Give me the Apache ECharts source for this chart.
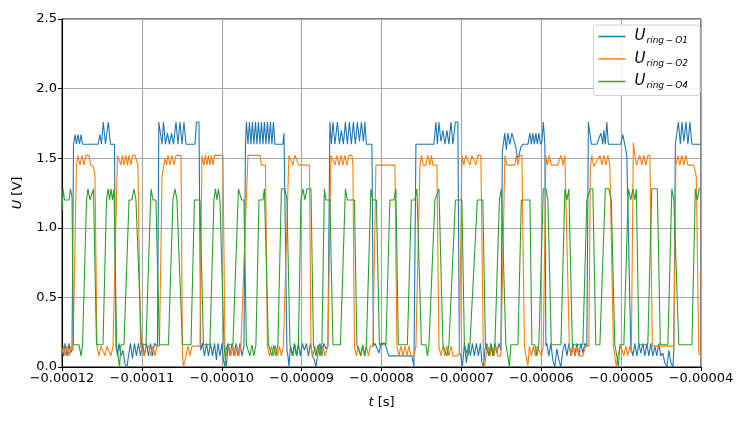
<!DOCTYPE html>
<html>
<head>
<meta charset="utf-8">
<script src="https://cdn.jsdelivr.net/npm/echarts@6/dist/echarts.min.js"></script>
<style>
html,body{margin:0;padding:0;background:#fff;}
#c{width:747px;height:421px;}
</style>
</head>
<body>
<div id="c"></div>
<script>
// time in microseconds, voltage in V
const seriesNames = ['O1', 'O2', 'O4'];
const colors = ['#1f77b4', '#ff7f0e', '#2ca02c'];

const u1 = [
[-120.00,0.13],[-119.81,0.08],[-119.62,0.17],[-119.37,0.08],[-119.12,0.17],[-118.94,0.10],[-118.75,0.12],
[-118.56,1.60],[-118.37,1.67],[-118.19,1.60],[-118.00,1.67],[-117.81,1.60],[-117.62,1.67],[-117.43,1.60],
[-115.49,1.60],[-115.24,1.67],[-115.06,1.60],[-114.83,1.76],[-114.56,1.60],[-114.21,1.76],[-113.93,1.60],[-113.43,1.60],
[-113.24,0.15],[-113.05,0.08],[-112.87,0.17],[-112.62,0.08],[-112.37,0.12],[-112.11,0.02],[-111.86,0.00],[-111.68,0.08],
[-111.43,0.17],[-111.18,0.06],[-110.93,0.17],[-110.68,0.08],[-110.43,0.17],[-110.17,0.08],[-109.92,0.17],[-109.67,0.08],
[-109.42,0.17],[-109.17,0.08],[-108.92,0.17],[-108.67,0.08],[-108.42,0.17],[-108.05,0.15],
[-107.88,1.76],[-107.67,1.76],[-107.48,1.60],[-107.30,1.76],[-107.05,1.60],[-106.80,1.68],[-106.55,1.60],[-106.29,1.68],
[-106.04,1.60],[-105.73,1.76],[-105.48,1.60],[-105.23,1.76],[-104.98,1.60],[-104.73,1.76],[-104.48,1.60],[-103.35,1.60],
[-103.17,1.76],[-102.85,1.76],
[-102.63,0.12],[-102.41,0.17],[-102.16,0.08],[-101.91,0.17],[-101.66,0.08],[-101.41,0.17],[-101.16,0.08],[-100.91,0.17],
[-100.66,0.05],[-100.48,0.17],[-100.22,0.08],[-99.97,0.17],[-99.79,0.05],[-99.60,0.00],[-99.47,0.12],[-99.22,0.17],
[-98.97,0.08],[-98.72,0.17],[-98.47,0.08],[-98.22,0.17],[-97.97,0.08],[-97.72,0.17],[-97.47,0.08],[-97.22,0.15],
[-97.03,1.60],[-96.91,1.76],[-96.72,1.60],[-96.53,1.76],[-96.34,1.60],[-96.16,1.76],[-95.97,1.60],[-95.78,1.76],
[-95.59,1.60],[-95.41,1.76],[-95.22,1.60],[-95.03,1.76],[-94.84,1.60],[-94.66,1.76],[-94.47,1.60],[-94.28,1.76],
[-94.09,1.60],[-93.91,1.76],[-93.72,1.60],[-93.53,1.76],[-93.34,1.60],[-92.34,1.60],[-92.21,1.68],[-92.03,1.68],
[-91.84,0.12],[-91.71,0.08],[-91.59,0.00],[-91.40,0.15],[-91.15,0.08],[-90.90,0.17],[-90.65,0.08],[-90.40,0.17],
[-90.15,0.08],[-89.90,0.17],[-89.65,0.12],[-89.40,0.17],[-89.15,0.08],[-88.90,0.17],[-88.65,0.08],[-88.40,0.05],
[-88.21,0.00],[-87.96,0.10],[-87.71,0.17],[-87.46,0.08],[-87.21,0.17],[-86.96,0.13],[-86.71,0.15],
[-86.46,1.76],[-86.27,1.60],[-86.08,1.76],[-85.83,1.60],[-85.52,1.76],[-85.27,1.60],[-85.02,1.70],[-84.77,1.60],
[-84.52,1.76],[-84.27,1.60],[-84.02,1.76],[-83.77,1.60],[-83.52,1.76],[-83.27,1.60],[-83.02,1.76],[-82.76,1.62],
[-82.51,1.76],[-82.26,1.62],[-82.08,1.76],[-81.89,1.60],[-81.20,1.60],
[-81.01,0.15],[-80.82,0.17],[-80.32,0.10],[-80.07,0.17],[-79.57,0.17],[-79.07,0.08],[-76.19,0.08],[-75.94,0.00],
[-75.69,1.60],[-73.44,1.60],[-73.19,1.76],[-73.00,1.60],[-72.81,1.76],[-72.56,1.62],[-72.31,1.70],[-72.06,1.60],
[-71.81,1.70],[-71.56,1.60],[-71.31,1.76],[-71.06,1.60],[-70.75,1.76],[-70.44,1.76],
[-70.25,0.10],[-70.06,0.08],[-69.87,0.00],[-69.62,0.17],[-69.37,0.03],[-69.12,0.17],[-68.87,0.08],[-68.62,0.17],
[-68.37,0.08],[-68.12,0.17],[-67.87,0.08],[-67.62,0.17],[-67.43,0.03],[-67.24,0.00],[-67.05,0.13],[-66.80,0.17],
[-66.55,0.08],[-66.30,0.17],[-66.05,0.08],[-65.80,0.17],[-65.55,0.10],[-65.30,0.17],[-65.05,0.12],
[-64.87,1.55],[-64.56,1.68],[-64.37,1.56],[-64.18,1.68],[-63.93,1.60],[-63.68,1.68],[-63.43,1.68],[-63.18,1.58],
[-62.99,1.50],[-62.80,1.52],[-62.55,1.58],[-62.30,1.60],[-61.67,1.60],[-61.42,1.68],[-61.24,1.60],[-61.05,1.68],
[-60.86,1.60],[-60.67,1.68],[-60.49,1.60],[-60.30,1.68],[-60.11,1.60],[-59.92,1.62],[-59.74,1.76],[-59.55,1.60],
[-59.42,0.15],[-59.30,0.17],[-59.05,0.08],[-58.80,0.17],[-58.55,0.05],[-58.30,0.00],[-58.05,0.13],[-57.79,0.05],
[-57.54,0.00],[-57.29,0.12],[-57.04,0.17],[-56.79,0.08],[-56.54,0.17],[-56.29,0.08],[-56.04,0.17],[-55.79,0.08],
[-55.54,0.17],[-55.29,0.08],[-55.04,0.17],[-54.79,0.10],[-54.54,0.17],[-54.29,0.15],
[-54.10,1.76],[-53.91,1.76],[-53.73,1.60],[-53.04,1.60],[-52.54,1.68],[-52.29,1.60],[-52.16,1.70],[-51.98,1.60],
[-51.79,1.76],[-51.60,1.60],[-50.04,1.60],[-49.79,1.67],[-49.54,1.60],[-49.29,1.52],[-49.04,1.52],
[-48.79,0.15],[-48.53,0.08],[-48.28,0.17],[-48.03,0.08],[-47.78,0.17],[-47.53,0.10],[-47.28,0.17],[-47.03,0.08],
[-46.78,0.17],[-46.53,0.08],[-46.28,0.17],[-46.03,0.08],[-45.78,0.15],[-45.53,0.08],[-45.28,0.17],[-45.03,0.08],
[-44.78,0.10],[-44.53,0.03],[-44.27,0.00],[-44.02,0.12],[-43.77,0.03],[-43.52,0.00],[-43.40,0.12],
[-43.21,1.60],[-43.02,1.60],[-42.83,1.76],[-42.58,1.60],[-42.39,1.76],[-42.14,1.62],[-41.89,1.76],[-41.64,1.60],
[-41.39,1.76],[-41.14,1.60],[-40.00,1.60]
];

const u2 = [
[-120.00,0.10],[-119.81,0.15],[-119.62,0.08],[-119.37,0.15],[-119.12,0.08],[-118.87,0.15],[-118.62,0.12],
[-118.19,1.45],[-118.00,1.52],[-117.75,1.45],[-117.50,1.52],[-117.25,1.45],[-117.00,1.52],[-116.62,1.52],[-116.43,1.45],
[-116.06,1.44],[-115.87,1.37],
[-115.62,0.15],[-115.37,0.08],[-115.12,0.15],[-114.87,0.15],[-114.62,0.08],[-114.37,0.15],[-114.12,0.15],[-113.87,0.08],
[-113.62,0.15],[-113.37,0.15],
[-113.05,1.52],[-112.87,1.52],[-112.62,1.45],[-112.43,1.52],[-112.24,1.45],[-111.99,1.52],[-111.80,1.45],[-111.61,1.52],
[-111.36,1.45],[-111.18,1.52],[-110.86,1.52],[-110.49,1.45],
[-110.17,0.15],[-109.99,0.15],[-109.74,0.08],[-109.49,0.15],[-109.17,0.15],[-108.86,0.08],[-108.61,0.15],[-108.36,0.08],
[-108.11,0.15],[-107.80,0.15],
[-107.48,1.37],[-107.11,1.50],[-106.92,1.45],[-106.73,1.52],[-106.48,1.45],[-106.23,1.52],[-105.98,1.45],[-105.73,1.52],
[-105.10,1.52],
[-104.92,0.08],[-104.79,0.00],[-104.48,0.08],[-104.23,0.15],[-103.98,0.08],[-103.73,0.15],[-102.73,0.15],
[-102.48,1.52],[-102.23,1.45],[-102.04,1.52],[-101.85,1.45],[-101.66,1.52],[-101.48,1.45],[-101.29,1.52],[-101.10,1.45],
[-100.91,1.52],[-99.85,1.52],
[-99.60,0.15],[-99.35,0.08],[-99.10,0.15],[-98.85,0.08],[-98.60,0.15],[-98.35,0.08],[-98.10,0.15],[-97.85,0.08],
[-97.60,0.15],[-97.35,0.15],
[-96.72,1.52],[-95.22,1.52],[-95.03,1.45],[-94.53,1.45],
[-94.28,0.15],[-94.03,0.08],[-93.78,0.15],[-93.53,0.08],[-93.28,0.15],[-93.03,0.08],[-92.78,0.15],[-92.53,0.08],
[-92.28,0.15],[-92.03,0.15],
[-91.59,1.52],[-91.34,1.52],[-91.09,1.45],[-90.84,1.52],[-90.59,1.52],[-90.34,1.45],[-89.02,1.45],
[-88.83,0.15],[-88.58,0.08],[-88.33,0.15],[-88.08,0.08],[-87.83,0.15],[-87.58,0.08],[-87.33,0.15],[-87.08,0.08],
[-86.71,0.15],
[-86.33,1.52],[-86.08,1.52],[-85.83,1.45],[-85.58,1.52],[-85.33,1.45],[-85.08,1.52],[-84.83,1.45],[-84.58,1.52],
[-84.33,1.45],[-84.08,1.52],[-83.70,1.52],[-83.58,1.45],
[-83.39,0.15],[-83.14,0.08],[-82.89,0.15],[-82.64,0.08],[-82.39,0.15],[-82.14,0.08],[-81.89,0.15],[-81.64,0.08],
[-81.39,0.15],[-81.08,0.15],
[-80.70,1.45],[-78.32,1.45],
[-78.07,0.15],[-77.82,0.08],[-77.57,0.15],[-77.32,0.08],[-77.07,0.15],[-76.82,0.08],[-76.57,0.15],[-76.32,0.08],
[-75.94,0.08],[-75.69,0.15],
[-75.19,1.45],[-75.00,1.52],[-74.75,1.45],[-74.44,1.45],[-74.19,1.52],[-73.94,1.45],[-73.75,1.52],[-73.56,1.45],
[-73.06,1.45],
[-72.81,0.15],[-72.56,0.08],[-72.31,0.15],[-72.06,0.08],[-71.81,0.15],[-71.56,0.08],[-71.31,0.15],[-71.06,0.08],
[-70.56,0.08],[-70.25,0.10],
[-69.94,1.52],[-69.69,1.45],[-69.44,1.52],[-69.19,1.52],[-68.93,1.45],[-68.68,1.52],[-68.43,1.52],[-68.18,1.45],
[-67.93,1.52],[-67.56,1.52],
[-67.24,0.05],[-67.12,0.00],[-66.93,0.08],[-66.68,0.15],[-66.43,0.08],[-66.18,0.15],[-65.93,0.08],[-65.68,0.15],
[-65.43,0.08],[-65.05,0.08],
[-64.55,1.52],[-64.30,1.45],[-63.30,1.45],[-63.11,1.52],[-62.92,1.45],[-62.74,1.52],[-62.42,1.52],
[-62.11,0.15],[-61.92,0.08],[-61.67,0.01],[-61.49,0.15],[-61.24,0.08],[-60.99,0.15],[-60.74,0.08],[-60.49,0.15],
[-60.24,0.15],[-59.99,0.08],[-59.74,0.15],
[-59.42,1.52],[-59.24,1.45],[-58.99,1.52],[-58.74,1.45],[-57.92,1.45],[-57.54,1.52],[-57.29,1.45],[-57.04,1.52],
[-56.79,1.52],
[-56.48,0.15],[-56.23,0.08],[-55.98,0.15],[-55.73,0.08],[-55.48,0.15],[-55.23,0.08],[-54.79,0.08],[-54.42,0.15],
[-54.04,0.15],
[-53.85,1.44],[-53.67,1.52],[-53.42,1.44],[-52.66,1.52],[-52.41,1.45],[-52.16,1.52],[-51.91,1.45],[-51.66,1.52],
[-51.41,1.45],
[-50.97,0.15],[-50.79,0.08],[-50.60,0.00],[-50.41,0.08],[-50.04,0.15],[-49.66,0.08],[-49.41,0.15],[-49.16,0.08],
[-48.91,0.15],[-48.72,0.10],
[-48.47,1.61],[-48.28,1.52],[-48.09,1.45],[-47.91,1.45],[-47.66,1.52],[-47.41,1.45],[-47.16,1.52],[-46.91,1.45],
[-46.66,1.52],[-46.40,1.52],
[-46.09,0.15],[-43.40,0.15],
[-43.15,1.45],[-42.90,1.52],[-42.65,1.45],[-42.40,1.52],[-42.15,1.45],[-41.90,1.52],[-41.65,1.45],[-40.90,1.45],
[-40.59,1.37],[-40.28,0.10],[-40.00,0.08]
];

const u4 = [
[-120.00,1.12],[-119.87,1.28],[-119.69,1.20],[-119.12,1.20],[-118.94,1.28],[-118.75,1.22],
[-118.56,0.16],[-117.87,0.16],[-117.62,0.08],[-117.43,0.16],
[-116.93,1.20],[-116.75,1.28],[-116.50,1.20],[-116.25,1.20],[-116.06,1.28],
[-115.68,0.16],[-114.87,0.16],
[-114.43,1.20],[-114.24,1.28],[-114.05,1.20],[-113.87,1.28],[-113.68,1.20],[-113.49,1.28],
[-113.18,0.16],[-112.99,0.16],[-112.80,0.00],[-112.62,0.16],[-112.24,0.16],
[-111.61,1.20],[-111.24,1.20],[-110.99,1.28],[-110.74,1.20],[-110.49,1.20],
[-110.05,0.16],[-109.49,0.16],
[-108.86,1.28],[-108.61,1.20],[-108.24,1.20],
[-107.80,0.16],[-106.67,0.16],
[-106.11,1.20],[-105.86,1.28],[-105.61,1.20],[-105.36,1.20],
[-104.92,0.16],[-103.85,0.16],
[-103.42,1.20],[-102.73,1.20],
[-102.29,0.16],[-101.48,0.16],
[-100.98,1.20],[-100.79,1.28],[-100.60,1.20],[-100.41,1.28],[-100.22,1.20],
[-99.72,0.16],[-99.60,0.08],[-99.41,0.00],[-99.22,0.16],[-98.60,0.16],
[-97.91,1.28],[-97.72,1.28],[-97.53,1.20],[-97.22,1.20],
[-96.91,0.16],[-96.72,0.16],[-96.47,0.08],[-96.22,0.16],[-95.97,0.08],[-95.72,0.16],
[-95.34,1.20],[-94.84,1.20],[-94.66,1.28],[-94.47,1.28],
[-94.16,0.16],[-93.97,0.16],[-93.72,0.08],[-93.47,0.16],[-93.22,0.08],[-92.97,0.16],
[-92.53,1.28],[-92.09,1.28],[-91.84,1.20],
[-91.46,0.16],[-91.34,0.16],[-91.09,0.08],[-90.84,0.16],[-90.59,0.08],[-90.40,0.16],
[-90.09,1.20],[-89.84,1.28],[-89.59,1.20],[-89.34,1.28],[-88.83,1.28],
[-88.52,0.16],[-88.21,0.08],[-87.96,0.16],[-87.71,0.08],[-87.46,0.16],
[-87.15,1.28],[-86.96,1.20],[-86.46,1.20],
[-86.08,0.16],[-85.14,0.16],
[-84.52,1.28],[-84.27,1.20],[-83.39,1.20],
[-83.08,0.16],[-82.83,0.16],[-82.58,0.08],[-82.33,0.16],[-82.08,0.08],[-81.89,0.16],
[-81.33,1.28],[-81.08,1.20],[-80.64,1.20],
[-80.26,0.16],[-79.45,0.16],
[-78.95,1.20],[-78.45,1.20],[-78.20,1.28],
[-77.89,0.16],[-76.76,0.16],
[-76.26,1.20],[-75.82,1.20],[-75.57,1.28],[-75.38,1.28],
[-75.00,0.16],[-74.44,0.16],[-74.25,0.08],[-74.06,0.16],[-73.81,0.16],
[-73.31,1.20],[-73.06,1.20],[-72.81,1.28],[-72.63,1.28],
[-72.31,0.16],[-72.06,0.16],[-71.81,0.08],[-71.56,0.16],[-71.31,0.16],
[-70.75,1.20],[-69.94,1.20],
[-69.62,0.16],[-69.44,0.16],[-69.19,0.08],[-68.93,0.16],[-68.68,0.16],
[-68.00,1.20],[-67.31,1.20],
[-66.99,0.16],[-66.80,0.16],[-66.55,0.08],[-66.30,0.16],[-66.05,0.08],[-65.80,0.16],
[-65.24,1.20],[-64.99,1.28],
[-64.43,0.16],[-64.18,0.08],[-63.99,0.00],[-63.80,0.16],[-62.92,0.16],
[-62.49,1.20],[-61.42,1.20],
[-61.17,0.16],[-60.80,0.16],[-60.55,0.08],[-60.30,0.16],
[-59.74,1.28],[-59.42,1.28],[-59.17,1.20],
[-58.74,0.16],[-57.54,0.16],
[-57.04,1.28],[-56.79,1.20],[-56.54,1.28],
[-56.11,0.16],[-54.79,0.16],
[-54.29,1.20],[-54.04,1.20],[-53.85,1.28],[-53.54,1.28],
[-53.17,0.16],[-52.66,0.16],
[-51.98,1.28],[-51.54,1.28],[-51.23,1.20],
[-50.79,0.16],[-50.54,0.08],[-50.35,0.00],[-50.16,0.16],[-49.66,0.16],
[-49.10,1.28],[-48.79,1.20],[-48.53,1.28],[-48.28,1.20],[-48.09,1.28],
[-47.78,0.16],[-46.66,0.16],
[-46.16,1.28],[-45.47,1.28],
[-45.09,0.16],[-44.15,0.16],
[-43.65,1.28],[-43.40,1.20],[-43.15,1.20],
[-42.78,0.16],[-41.14,0.16],
[-40.71,1.28],[-40.46,1.20],[-40.21,1.28],[-40.00,1.28]
];

const xMinUs = -120, xMaxUs = -40, xStepUs = 10;
const yMin = 0, yMax = 2.5, yStep = 0.5;

const toSec = arr => arr.map(p => [p[0] * 1e-6, p[1]]);
const allData = [u1, u2, u4];

const font = 'DejaVu Sans';
const chart = echarts.init(document.getElementById('c'), null, {renderer: 'canvas'});
chart.setOption({
  animation: false,
  backgroundColor: '#fff',
  grid: {left: 62, right: 46, top: 19, bottom: 54, show: true, borderColor: '#000', borderWidth: 1, backgroundColor: 'transparent'},
  xAxis: {
    type: 'value',
    min: xMinUs * 1e-6, max: xMaxUs * 1e-6, interval: xStepUs * 1e-6,
    name: '{i|t} [s]',
    nameLocation: 'middle', nameGap: 29,
    nameTextStyle: {fontFamily: font, fontSize: 13, color: '#000', rich: {i: {fontFamily: font, fontSize: 13, fontStyle: 'italic', color: '#000'}}},
    axisLine: {show: true, lineStyle: {color: '#000', width: 1}},
    axisTick: {show: true, length: 4, lineStyle: {color: '#000'}},
    axisLabel: {fontFamily: font, fontSize: 13, color: '#000', margin: 5,
      formatter: v => (v < 0 ? '\u2212' : '') + Math.abs(v).toFixed(5)},
    splitLine: {show: true, lineStyle: {color: '#a8a8a8', width: 1.2}}
  },
  yAxis: {
    type: 'value',
    min: yMin, max: yMax, interval: yStep,
    name: '{i|U} [V]',
    nameLocation: 'middle', nameGap: 38, nameRotate: 90,
    nameTextStyle: {fontFamily: font, fontSize: 13, color: '#000', rich: {i: {fontFamily: font, fontSize: 13, fontStyle: 'italic', color: '#000'}}},
    axisLine: {show: true, lineStyle: {color: '#000', width: 1}},
    axisTick: {show: true, length: 4, lineStyle: {color: '#000'}},
    axisLabel: {fontFamily: font, fontSize: 13, color: '#000', margin: 5, formatter: v => v.toFixed(1)},
    splitLine: {show: true, lineStyle: {color: '#a8a8a8', width: 1.2}}
  },
  legend: {
    orient: 'vertical',
    right: 47, top: 25,
    icon: 'rect',
    itemWidth: 27, itemHeight: 1.5, itemGap: 6,
    padding: [4, 12, 5, 5],
    backgroundColor: 'rgba(255,255,255,0.85)',
    borderColor: '#d0d0d0', borderWidth: 1, borderRadius: 3,
    data: seriesNames,
    formatter: n => '{u|U}{s|ring\u2009\u2212\u2009' + n + '}',
    textStyle: {
      padding: [0, 0, 0, 4],
      rich: {
        u: {fontFamily: font, fontSize: 15, fontStyle: 'italic', color: '#000', lineHeight: 18, verticalAlign: 'middle'},
        s: {fontFamily: font, fontSize: 9, fontStyle: 'italic', color: '#000', lineHeight: 18, verticalAlign: 'bottom', padding: [7, 0, 0, 1]}
      }
    }
  },
  series: allData.map((d, i) => ({
    name: seriesNames[i],
    type: 'line',
    data: toSec(d),
    showSymbol: false,
    symbol: 'none',
    clip: true,
    color: colors[i],
    lineStyle: {color: colors[i], width: 1.1},
    z: 3
  }))
});
</script>
</body>
</html>
